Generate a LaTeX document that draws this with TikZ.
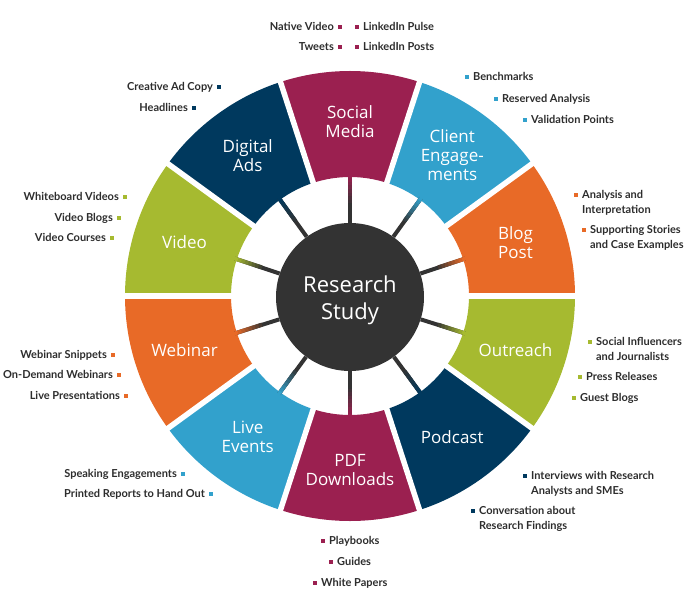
\documentclass[tikz,border=0pt]{standalone}
\usepackage{fontspec}
\setmainfont{Lato}
\newfontfamily\segfont{Open Sans}
\usetikzlibrary{positioning}

\definecolor{smred}{RGB}{155,32,80}
\definecolor{smnavy}{RGB}{0,57,94}
\definecolor{smblue}{RGB}{50,161,204}
\definecolor{smorange}{RGB}{232,106,39}
\definecolor{smgreen}{RGB}{166,186,48}
\definecolor{hubgray}{RGB}{51,51,51}
\definecolor{txtgray}{RGB}{45,45,45}

\begin{document}
\begin{tikzpicture}[x=1pt, y=1pt,
    seg/.style={font=\segfont\fontsize{17}{19}\selectfont, text=white, align=center, inner sep=0pt},
    hub/.style={circle, fill=hubgray, minimum size=148pt, inner sep=0pt},
    hubtext/.style={font=\segfont\fontsize{22}{27}\selectfont, text=white, align=center, inner sep=0pt},
    gap/.style={white, line width=5.5pt},
    spoke/.style={line width=4pt},
    bul/.style={fill=#1, minimum size=3.5pt, inner sep=0pt},
    itemR/.style={font=\bfseries\fontsize{11}{14.5}\selectfont, text=txtgray, align=left, inner sep=0pt, anchor=north west, xshift=4pt, yshift=4.8pt},
    itemL/.style={font=\bfseries\fontsize{11}{14.5}\selectfont, text=txtgray, align=right, inner sep=0pt, anchor=north east, xshift=-4pt, yshift=4.8pt}
]
\useasboundingbox (-350,-293) rectangle (342,296);

\node[hub] (hub) at (0,-1) {};
\node[hubtext] (study) at ([yshift=-3pt]hub.center) {Research\\Study};

% ring segments and spokes
\foreach \ang/\col/\nm/\txt in {
    90/smred/social/{Social\\Media},
    126/smnavy/ads/{Digital\\Ads},
    162/smgreen/video/{Video},
    198/smorange/webinar/{Webinar},
    234/smblue/live/{Live\\Events},
    270/smred/pdf/{PDF\\Downloads},
    306/smnavy/podcast/{Podcast},
    342/smgreen/outreach/{Outreach},
    18/smorange/blog/{Blog\\Post},
    54/smblue/client/{Client\\Engage-\\ments}}
{
    \fill[\col] ({\ang-18}:119) arc[start angle=\ang-18, end angle=\ang+18, radius=119]
        -- ({\ang+18}:225) arc[start angle=\ang+18, end angle=\ang-18, radius=225] -- cycle;
    \node[seg] (\nm) at (\ang:174) {\txt};
    \coordinate (\nm-in) at (\ang:121);
    \draw[spoke, hubgray] (hub) -- (\nm-in);
    \foreach \k in {1,...,8} {
        \pgfmathtruncatemacro\pct{\k*12.5}
        \draw[spoke, \col!\pct!hubgray] (\ang:{89+\k*3.6}) -- (\ang:{93+\k*3.6});
    }
}
\foreach \a in {0,36,...,324}
    \draw[gap] (\a:108) -- (\a:235);

% Social Media
\node[bul=smred] (nv-b) at (-10,269) {};
\node[itemL] (nv) at (nv-b.west) {Native Video};
\node[bul=smred] (tw-b) at (-10,249) {};
\node[itemL] (tw) at (tw-b.west) {Tweets};
\node[bul=smred] (lpu-b) at (7,269) {};
\node[itemR] (lpu) at (lpu-b.east) {LinkedIn Pulse};
\node[bul=smred] (lpo-b) at (7,249) {};
\node[itemR] (lpo) at (lpo-b.east) {LinkedIn Posts};

% Digital Ads
\node[bul=smnavy] (cac-b) at (-131,209) {};
\node[itemL] (cac) at (cac-b.west) {Creative Ad Copy};
\node[bul=smnavy] (hl-b) at (-156,188) {};
\node[itemL] (hl) at (hl-b.west) {Headlines};

% Client Engagements
\node[bul=smblue] (bm-b) at (117,219) {};
\node[itemR] (bm) at (bm-b.east) {Benchmarks};
\node[bul=smblue] (ra-b) at (146,197) {};
\node[itemR] (ra) at (ra-b.east) {Reserved Analysis};
\node[bul=smblue] (vp-b) at (175,176) {};
\node[itemR] (vp) at (vp-b.east) {Validation Points};

% Blog Post
\node[bul=smorange] (ai-b) at (226,101) {};
\node[itemR] (ai) at (ai-b.east) {Analysis and\\Interpretation};
\node[bul=smorange] (ss-b) at (234,66) {};
\node[itemR] (ss) at (ss-b.east) {Supporting Stories\\and Case Examples};

% Outreach
\node[bul=smgreen] (si-b) at (240,-46) {};
\node[itemR] (si) at (si-b.east) {Social Influencers\\and Journalists};
\node[bul=smgreen] (pr-b) at (230,-81) {};
\node[itemR] (pr) at (pr-b.east) {Press Releases};
\node[bul=smgreen] (gb-b) at (224,-102) {};
\node[itemR] (gb) at (gb-b.east) {Guest Blogs};

% Podcast
\node[bul=smnavy] (iw-b) at (175,-180) {};
\node[itemR] (iw) at (iw-b.east) {Interviews with Research\\Analysts and SMEs};
\node[bul=smnavy] (cv-b) at (123,-215) {};
\node[itemR] (cv) at (cv-b.east) {Conversation about\\Research Findings};

% PDF Downloads
\node[bul=smred] (pb-b) at (-27,-245) {};
\node[itemR] (pb) at (pb-b.east) {Playbooks};
\node[bul=smred] (gd-b) at (-19,-266) {};
\node[itemR] (gd) at (gd-b.east) {Guides};
\node[bul=smred] (wp-b) at (-35,-287) {};
\node[itemR] (wp) at (wp-b.east) {White Papers};

% Live Events
\node[bul=smblue] (se-b) at (-167,-178) {};
\node[itemL] (se) at (se-b.west) {Speaking Engagements};
\node[bul=smblue] (prh-b) at (-139,-198) {};
\node[itemL] (prh) at (prh-b.west) {Printed Reports to Hand Out};

% Webinar
\node[bul=smorange] (ws-b) at (-237,-59) {};
\node[itemL] (ws) at (ws-b.west) {Webinar Snippets};
\node[bul=smorange] (od-b) at (-231,-79) {};
\node[itemL] (od) at (od-b.west) {On-Demand Webinars};
\node[bul=smorange] (lp-b) at (-224,-100) {};
\node[itemL] (lp) at (lp-b.west) {Live Presentations};

% Video
\node[bul=smgreen] (wv-b) at (-225,99) {};
\node[itemL] (wv) at (wv-b.west) {Whiteboard Videos};
\node[bul=smgreen] (vb-b) at (-231,78) {};
\node[itemL] (vb) at (vb-b.west) {Video Blogs};
\node[bul=smgreen] (vc-b) at (-238,58) {};
\node[itemL] (vc) at (vc-b.west) {Video Courses};
\end{tikzpicture}
\end{document}
